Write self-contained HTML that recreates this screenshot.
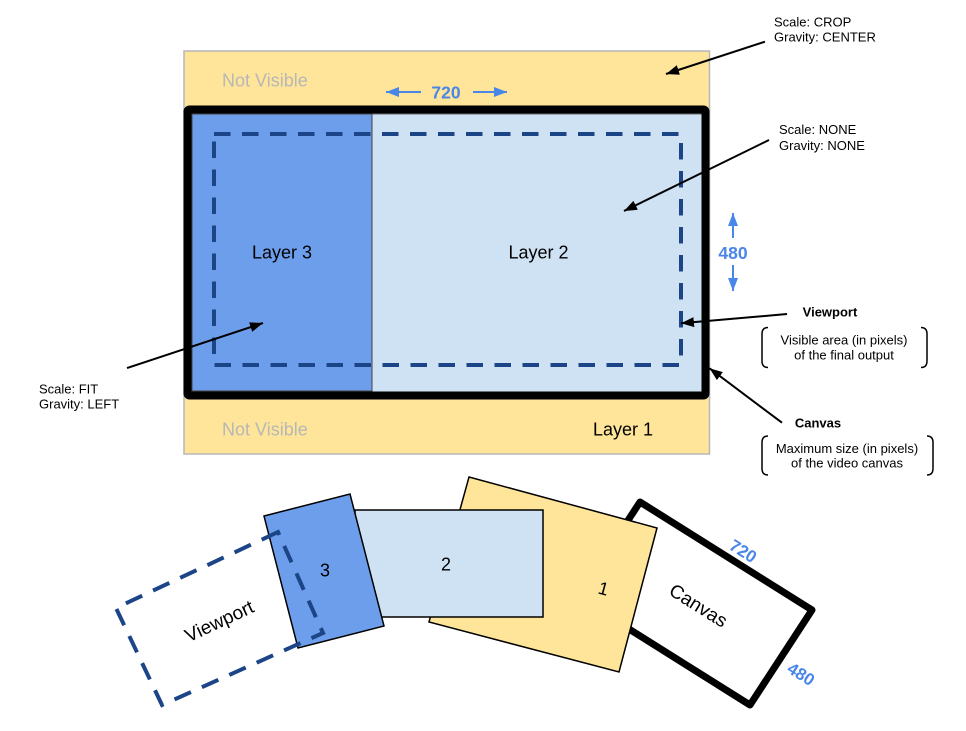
<!DOCTYPE html>
<html><head><meta charset="utf-8"><style>
html,body{margin:0;padding:0;background:#fff;}
svg{display:block;}
text{font-family:"Liberation Sans",Arial,sans-serif;}
</style></head><body>
<svg width="966" height="731" viewBox="0 0 966 731" xmlns="http://www.w3.org/2000/svg">
<defs>
<marker id="ah" markerUnits="userSpaceOnUse" markerWidth="14" markerHeight="10" refX="13" refY="5" orient="auto">
<path d="M0,0 L13,5 L0,10 z" fill="#000"/>
</marker>
<marker id="bh" markerUnits="userSpaceOnUse" markerWidth="14" markerHeight="10" refX="13" refY="5" orient="auto">
<path d="M0,0 L13,5 L0,10 z" fill="#4a86e8"/>
</marker>
</defs>

<!-- Top diagram -->
<rect x="184" y="51" width="525.5" height="403" fill="#ffe599" stroke="#b7b7b7" stroke-width="1.5"/>
<rect x="372" y="114" width="330" height="278" fill="#cfe2f3" stroke="#666" stroke-width="1"/>
<rect x="192" y="114" width="180" height="277" fill="#6d9eeb" stroke="#434343" stroke-width="1"/>
<rect x="187.5" y="109.5" width="518" height="286" fill="none" stroke="#000" stroke-width="8" rx="2"/>
<rect x="214" y="134" width="467" height="231" fill="none" stroke="#1c4587" stroke-width="4" stroke-dasharray="16.5 11.5"/>

<text x="222" y="86.5" font-size="18" fill="#b7b7b7">Not Visible</text>
<text x="222" y="435.5" font-size="18" fill="#b7b7b7">Not Visible</text>
<text x="593" y="435.5" font-size="18" fill="#000">Layer 1</text>
<text x="282" y="258.5" font-size="18" fill="#000" text-anchor="middle">Layer 3</text>
<text x="538.5" y="258.5" font-size="18" fill="#000" text-anchor="middle">Layer 2</text>

<!-- 720 / 480 -->
<text x="446" y="98.3" font-size="17.5" font-weight="bold" fill="#4a86e8" text-anchor="middle">720</text>
<line x1="421" y1="92" x2="386" y2="92" stroke="#4a86e8" stroke-width="2" marker-end="url(#bh)"/>
<line x1="473" y1="92" x2="507" y2="92" stroke="#4a86e8" stroke-width="2" marker-end="url(#bh)"/>
<text x="733" y="259" font-size="17.5" font-weight="bold" fill="#4a86e8" text-anchor="middle">480</text>
<line x1="733" y1="238" x2="733" y2="213" stroke="#4a86e8" stroke-width="2" marker-end="url(#bh)"/>
<line x1="733" y1="265" x2="733" y2="291" stroke="#4a86e8" stroke-width="2" marker-end="url(#bh)"/>

<!-- Annotations -->
<text x="774" y="26.4" font-size="13" fill="#000">Scale: CROP</text>
<text x="774" y="41.4" font-size="13" fill="#000">Gravity: CENTER</text>
<line x1="765" y1="41.7" x2="666" y2="74" stroke="#000" stroke-width="2" marker-end="url(#ah)"/>

<text x="779" y="134" font-size="13" fill="#000">Scale: NONE</text>
<text x="779" y="150" font-size="13" fill="#000">Gravity: NONE</text>
<line x1="769" y1="140" x2="624" y2="211" stroke="#000" stroke-width="2" marker-end="url(#ah)"/>

<text x="39" y="393.7" font-size="13" fill="#000">Scale: FIT</text>
<text x="39" y="408.7" font-size="13" fill="#000">Gravity: LEFT</text>
<line x1="127" y1="368" x2="263" y2="323" stroke="#000" stroke-width="2" marker-end="url(#ah)"/>

<text x="830" y="316.4" font-size="13" font-weight="bold" fill="#000" text-anchor="middle">Viewport</text>
<line x1="787" y1="314" x2="681" y2="323.3" stroke="#000" stroke-width="2" marker-end="url(#ah)"/>
<path d="M768,327.5 Q762,327.5 762,334 L762,361 Q762,367.5 768,367.5" fill="none" stroke="#000" stroke-width="1.5"/>
<path d="M921,327.5 Q927,327.5 927,334 L927,361 Q927,367.5 921,367.5" fill="none" stroke="#000" stroke-width="1.5"/>
<text x="844" y="344.7" font-size="13" fill="#000" text-anchor="middle">Visible area (in pixels)</text>
<text x="844" y="359.7" font-size="13" fill="#000" text-anchor="middle">of the final output</text>

<text x="818" y="427.4" font-size="13" font-weight="bold" fill="#000" text-anchor="middle">Canvas</text>
<line x1="782" y1="422.7" x2="709.5" y2="368.3" stroke="#000" stroke-width="2" marker-end="url(#ah)"/>
<path d="M768,436 Q762,436 762,442.5 L762,468.5 Q762,475 768,475" fill="none" stroke="#000" stroke-width="1.5"/>
<path d="M927,436 Q933,436 933,442.5 L933,468.5 Q933,475 927,475" fill="none" stroke="#000" stroke-width="1.5"/>
<text x="847" y="453" font-size="13" fill="#000" text-anchor="middle">Maximum size (in pixels)</text>
<text x="847" y="467.4" font-size="13" fill="#000" text-anchor="middle">of the video canvas</text>

<!-- Bottom diagram -->
<polygon points="640,502 812,610 750,705 578,597" fill="#fff" stroke="#000" stroke-width="7" stroke-linejoin="round"/>
<text x="0" y="0" font-size="19" fill="#000" text-anchor="middle" transform="translate(695,611) rotate(32)">Canvas</text>
<text x="0" y="0" font-size="17" font-weight="bold" fill="#4a86e8" text-anchor="middle" transform="translate(740,556) rotate(32)">720</text>
<text x="0" y="0" font-size="17" font-weight="bold" fill="#4a86e8" text-anchor="middle" transform="translate(798,679) rotate(32)">480</text>

<polygon points="469,477 657,528 619,672 429,622" fill="#ffe599" stroke="#000" stroke-width="1.5"/>
<text x="0" y="0" font-size="18" fill="#000" text-anchor="middle" transform="translate(602,594.5) rotate(15)">1</text>

<rect x="355" y="510" width="188" height="107" fill="#cfe2f3" stroke="#000" stroke-width="1.5"/>
<text x="446" y="570.5" font-size="18" fill="#000" text-anchor="middle">2</text>

<polygon points="264,516 350,494 384,626 298,648" fill="#6d9eeb" stroke="#000" stroke-width="1.5"/>
<text x="325" y="576.5" font-size="18" fill="#000" text-anchor="middle">3</text>

<polygon points="278,532 116,608 162,705 323,633" fill="none" stroke="#1c4587" stroke-width="4" stroke-dasharray="18 12"/>
<text x="0" y="0" font-size="19" fill="#000" text-anchor="middle" transform="translate(222,627) rotate(-25)">Viewport</text>
</svg>
</body></html>
